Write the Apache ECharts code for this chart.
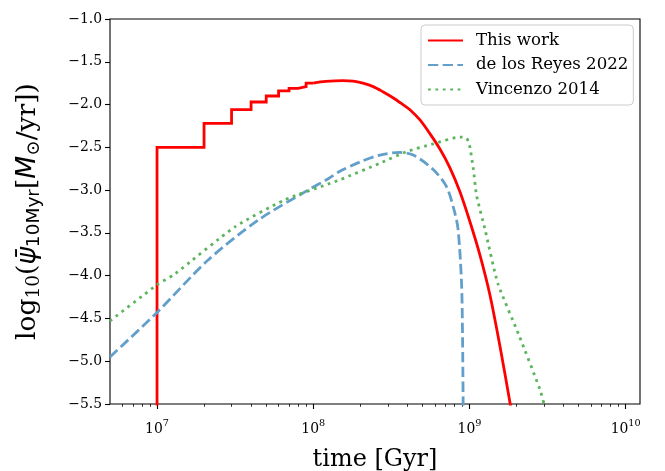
<!DOCTYPE html>
<html><head><meta charset="utf-8">
<script src="https://cdn.jsdelivr.net/npm/echarts@6/dist/echarts.min.js"></script>
<style>html,body{margin:0;padding:0;background:#fff}#c{width:665px;height:471px}</style>
</head><body><div id="c"></div>
<script>
// ---- data (time in yr, values = log10 SFR) ----
const xMin = 5e6, xMax = 1.235e10;
const yMin = -5.5, yMax = -1.0, yStep = 0.5;
const majorExps = [7, 8, 9, 10];
const seriesNames = ['This work', 'de los Reyes 2022', 'Vincenzo 2014'];

// "This work": 10-Myr step part, then the smooth part
const thisWorkStepTime = [1e7,1e7,2e7,2e7,3e7,3e7,4e7,4e7,5e7,5e7,6e7,6e7,7e7,7e7,8e7,8e7,9e7,9e7,1e8];
const thisWorkStepVal  = [-6,-2.5,-2.5,-2.22,-2.22,-2.06,-2.06,-1.97,-1.97,-1.90,-1.90,-1.84,-1.84,-1.81,-1.81,-1.79,-1.79,-1.75,-1.75];
const thisWorkTime = [1e8,1.2e8,1.55e8,1.8e8,2.08e8,2.42e8,2.79e8,3.24e8,3.75e8,4.16e8,4.82e8,5.58e8,6.47e8,7.5e8,8.69e8,1.007e9,1.167e9,1.35e9,1.57e9,1.82e9,1.9e9];
const thisWorkVal  = [-1.75,-1.73,-1.72,-1.725,-1.75,-1.79,-1.85,-1.92,-2.00,-2.06,-2.18,-2.34,-2.52,-2.74,-3.02,-3.37,-3.76,-4.22,-4.83,-5.49,-5.69];

const reyesTime = [5e6,1e7,2.13e7,4.45e7,9.25e7,1.24e8,1.48e8,2e8,2.67e8,3.59e8,4.37e8,5.86e8,7.13e8,8.07e8,8.47e8,8.9e8,9.03e8,9.11e8,9.15e8];
const reyesVal  = [-4.95,-4.43,-3.815,-3.35,-3.0,-2.87,-2.78,-2.67,-2.59,-2.56,-2.59,-2.76,-2.96,-3.27,-3.47,-4.09,-4.71,-5.49,-6.0];

const vincTime = [5e6,1e7,1.3e7,3.15e7,6.56e7,1.24e8,1.48e8,2.67e8,3.96e8,5.86e8,8.69e8,9.57e8,1.0e9,1.06e9,1.11e9,1.26e9,1.52e9,2.09e9,2.83e9,3.05e9];
const vincVal  = [-4.53,-4.107,-3.98,-3.43,-3.115,-2.93,-2.88,-2.686,-2.55,-2.46,-2.38,-2.39,-2.47,-2.76,-3.06,-3.465,-4.09,-4.71,-5.334,-5.55];

// ---- build ----
const L = Math.log10;
const pairs = (t, v) => t.map((x, i) => [L(x), v[i]]);
const minorVals = [];
for (let n = 6; n <= 10; n++) for (let k = 2; k <= 9; k++) {
  const v = L(k) + n; if (v > L(xMin) && v < L(xMax)) minorVals.push(v);
}
const serif = 'DejaVu Serif';
const RED = '#ff0000', BLUE = '#629fca', GREEN = '#5cb55c';
const chart = echarts.init(document.getElementById('c'), null, {renderer: 'canvas'});
chart.setOption({
  animation: false,
  backgroundColor: '#fff',
  grid: {left: 110, top: 19, right: 25, bottom: 67, outerBoundsMode: 'none', containLabel: false,
    show: true, borderColor: '#000', borderWidth: 1.1, backgroundColor: 'transparent'},
  xAxis: [{
    type: 'value', min: L(xMin), max: L(xMax),
    axisLine: {show: false}, splitLine: {show: false},
    axisTick: {show: true, customValues: majorExps, length: 5, lineStyle: {color: '#000', width: 1.1}},
    axisLabel: {customValues: majorExps, margin: 14, color: '#000',
      formatter: v => '{b|10}{s|' + Math.round(v) + '}',
      rich: {b: {fontFamily: serif, fontSize: 13.9, lineHeight: 22, color: '#000'},
             s: {fontFamily: serif, fontSize: 9.7, lineHeight: 10, verticalAlign: 'top', color: '#000'}}},
    name: 'time [Gyr]', nameLocation: 'middle', nameGap: 44,
    nameTextStyle: {fontFamily: serif, fontSize: 24, color: '#000'}
  }, {
    type: 'value', min: L(xMin), max: L(xMax), position: 'bottom',
    axisLine: {show: false}, splitLine: {show: false}, axisLabel: {show: false},
    axisTick: {show: true, customValues: minorVals, length: 2.8, lineStyle: {color: '#000', width: 0.8}}
  }],
  yAxis: {
    type: 'value', min: yMin, max: yMax, interval: yStep,
    axisLine: {show: false}, splitLine: {show: false},
    axisTick: {show: true, length: 5, lineStyle: {color: '#000', width: 1.1}},
    axisLabel: {margin: 8, color: '#000', fontFamily: serif, fontSize: 13.9,
      formatter: v => (v < 0 ? '\u2212' : '') + Math.abs(v).toFixed(1)},
    name: '{n|log}{s|10}{n|(}{i|\u03C8\u0304}{t|10Myr}{n|[}{i|M}{s|\u2299}{n|/yr])}',
    nameLocation: 'middle', nameGap: 66, nameRotate: 90,
    nameTextStyle: {rich: {
      n: {fontFamily: serif, fontSize: 26.5, lineHeight: 32, color: '#000'},
      i: {fontFamily: 'DejaVu Sans', fontStyle: 'italic', fontSize: 26.5, lineHeight: 32, color: '#000'},
      s: {fontFamily: serif, fontSize: 18.5, lineHeight: 18, verticalAlign: 'bottom', color: '#000'},
      t: {fontFamily: 'DejaVu Sans', fontSize: 18.5, lineHeight: 18, verticalAlign: 'bottom', color: '#000'}
    }}
  },
  legend: {
    orient: 'vertical', left: 421, top: 25,
    backgroundColor: 'rgba(255,255,255,0.8)', borderColor: '#cccccc', borderWidth: 1, borderRadius: 4,
    padding: [7, 5, 7, 6], itemWidth: 35, itemHeight: 14, itemGap: 7.5,
    itemStyle: {opacity: 0},
    textStyle: {fontFamily: serif, fontSize: 16.6, lineHeight: 14, color: '#000', padding: [0, 0, 0, 8]},
    data: seriesNames
  },
  series: [{
    name: seriesNames[0], type: 'line', data: pairs(thisWorkStepTime, thisWorkStepVal),
    symbol: 'none', clip: true, lineStyle: {color: RED, width: 2.8, join: 'miter'}, itemStyle: {color: RED}
  }, {
    name: seriesNames[0], type: 'line', data: pairs(thisWorkTime, thisWorkVal), smooth: 0.3,
    symbol: 'none', clip: true, lineStyle: {color: RED, width: 2.8}, itemStyle: {color: RED}
  }, {
    name: seriesNames[1], type: 'line', data: pairs(reyesTime, reyesVal), smooth: 0.3,
    symbol: 'none', clip: true, lineStyle: {color: BLUE, width: 2.8, type: [10.3, 4.4], cap: 'butt'}, itemStyle: {color: BLUE}
  }, {
    name: seriesNames[2], type: 'line', data: pairs(vincTime, vincVal), smooth: 0.2,
    symbol: 'none', clip: true, lineStyle: {color: GREEN, width: 2.8, type: [2.8, 4.6], cap: 'butt'}, itemStyle: {color: GREEN}
  }]
});
</script></body></html>
